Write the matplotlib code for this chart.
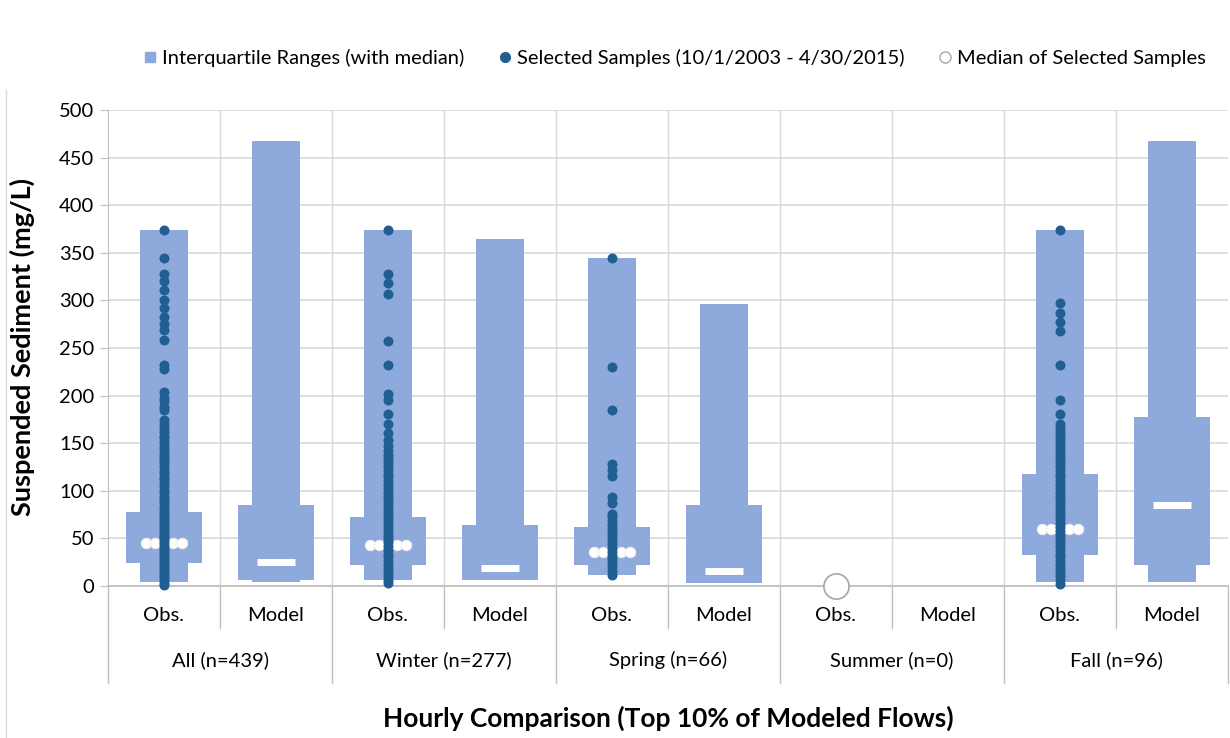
import matplotlib
matplotlib.use("Agg")
import matplotlib.pyplot as plt
import matplotlib.transforms as mtransforms
from matplotlib.lines import Line2D
import numpy as np

plt.rcParams['font.family'] = ['Lato', 'DejaVu Sans']

# slots: Obs./Model for each season group
slot_labels = ["Obs.", "Model"] * 5
group_labels = ["All (n=439)", "Winter (n=277)", "Spring (n=66)", "Summer (n=0)", "Fall (n=96)"]

nan = np.nan
box_min = [4, 4, 6, 6, 12, 3, nan, nan, 4, 4]
box_q1 = [24, 6, 22, 6, 22, 3, nan, nan, 33, 22]
box_med = [45, 25, 43, 19, 36, 16, nan, nan, 60, 85]
box_q3 = [78, 85, 73, 64, 62, 85, nan, nan, 118, 178]
box_max = [374, 467, 374, 365, 345, 296, nan, nan, 374, 467]

# selected samples (observations), one list per season, at the Obs. slot
all_obs = [374, 345, 328, 320, 311, 300, 292, 283, 275, 269, 258, 232, 228, 204, 197, 194, 188, 185,
           174, 170, 166, 162, 158, 155, 151, 147, 144, 140, 137, 133, 130, 126, 122, 119, 115, 112,
           108, 105, 101, 98, 94, 91, 88, 84, 81, 78, 75, 72, 69, 66, 63, 60, 57, 54, 51, 48, 45,
           42, 39, 36, 33, 30, 27, 24, 21, 18, 15, 12, 9, 6, 3, 1]
winter_obs = [374, 328, 318, 307, 257, 232, 202, 195, 181, 170, 161, 153, 147, 142, 138, 134, 130,
              126, 122, 118, 114, 110, 106, 102, 98, 94, 90, 86, 82, 78, 74, 70, 66, 62, 58, 54, 50,
              46, 42, 38, 34, 30, 26, 22, 18, 14, 10, 6, 3]
spring_obs = [345, 230, 185, 128, 122, 116, 94, 87, 76, 72, 68, 64, 60, 56, 52, 48, 44, 40, 36,
              32, 28, 24, 20, 16, 12]
summer_obs = []
fall_obs = [374, 297, 287, 277, 268, 232, 195, 181, 170, 166, 162, 158, 154, 150, 146, 142, 138,
            134, 130, 126, 122, 118, 114, 110, 106, 102, 98, 94, 90, 86, 82, 78, 74, 70, 66, 62, 58,
            54, 50, 46, 42, 38, 34, 30, 26, 22, 18, 14, 10, 6, 2]
season_obs = [all_obs, winter_obs, spring_obs, summer_obs, fall_obs]

# median of selected samples per season
sample_median = [45, 43, 36, 0, 60]

box_color = "#8eaadc"
dot_color = "#215e92"
grid_color = "#d9d9d9"
axis_color = "#bfbfbf"
fs = 14.5

fig = plt.figure(figsize=(12.3, 7.38), dpi=100)
ax = fig.add_axes([108 / 1230, 1 - 586 / 738, 1120 / 1230, 476 / 738])

x = np.arange(len(slot_labels))
bmin = np.array(box_min, dtype=float)
bmax = np.array(box_max, dtype=float)
bq1 = np.array(box_q1, dtype=float)
bq3 = np.array(box_q3, dtype=float)

# whisker range (narrow) and interquartile range (wide)
ax.bar(x, bmax - bmin, bottom=bmin, width=0.43, color=box_color, zorder=2)
ax.bar(x, bq3 - bq1, bottom=bq1, width=0.68, color=box_color, zorder=2)

# model medians as white dashes
for i in range(len(x)):
    if slot_labels[i] == "Model" and not np.isnan(box_med[i]):
        ax.plot([x[i] - 0.17, x[i] + 0.17], [box_med[i]] * 2, color="white", lw=5,
                solid_capstyle="butt", zorder=3)

# medians of selected samples (white dots across the obs box)
for g in range(len(group_labels)):
    xo = 2 * g
    if len(season_obs[g]) == 0:
        ax.scatter([xo], [sample_median[g]], s=330, color="white", edgecolor="#a6a6a6",
                   linewidth=1.2, zorder=5, clip_on=False)
    else:
        offs = np.array([-0.16, -0.08, 0.0, 0.08, 0.16])
        ax.scatter(xo + offs, [sample_median[g]] * len(offs), s=60, color="white",
                   edgecolor="#e6e6e6", linewidth=0.5, zorder=3)

# selected samples
for g in range(len(group_labels)):
    vals = season_obs[g]
    if len(vals):
        ax.scatter([2 * g] * len(vals), vals, s=52, color=dot_color, linewidth=0,
                   zorder=4, clip_on=False)

ax.set_xlim(-0.5, 9.5)
ax.set_ylim(0, 500)
ax.set_yticks(np.arange(0, 501, 50))
ax.yaxis.grid(True, color=grid_color, lw=1.2, zorder=0)
for b in np.arange(0.5, 9.5, 1.0):
    ax.axvline(b, color=grid_color, lw=1.0, zorder=0)
ax.set_xticks([])
for s in ["top", "right"]:
    ax.spines[s].set_visible(False)
ax.spines["left"].set_color(axis_color)
ax.spines["bottom"].set_color(axis_color)
ax.spines["bottom"].set_linewidth(1.3)
ax.tick_params(axis="y", length=6, color=axis_color, labelsize=fs, pad=4)

# category labels below axis
trans = mtransforms.blended_transform_factory(ax.transData, ax.transAxes)
for i, lab in enumerate(slot_labels):
    ax.text(x[i], -0.061, lab, transform=trans, ha="center", va="center", fontsize=fs)
for g, lab in enumerate(group_labels):
    ax.text(2 * g + 0.5, -0.155, lab, transform=trans, ha="center", va="center", fontsize=fs)
for b in [0.5, 2.5, 4.5, 6.5, 8.5]:
    ax.plot([b, b], [0, -0.088], transform=trans, color=axis_color, lw=1.0, clip_on=False)
for b in [-0.5, 1.5, 3.5, 5.5, 7.5, 9.5]:
    ax.plot([b, b], [0, -0.204], transform=trans, color=axis_color, lw=1.0, clip_on=False)

fig.text(22 / 1230, 1 - 347 / 738, "Suspended Sediment (mg/L)", rotation=90,
         ha="center", va="center", fontsize=19.5, fontweight="bold")
fig.text(668 / 1230, 1 - 718 / 738, "Hourly Comparison (Top 10% of Modeled Flows)",
         ha="center", va="center", fontsize=19, fontweight="bold")

handles = [
    Line2D([], [], marker="s", ls="", markersize=7, color=box_color),
    Line2D([], [], marker="o", ls="", markersize=7, color=dot_color),
    Line2D([], [], marker="o", ls="", markersize=8, markerfacecolor="white",
           markeredgecolor="#a6a6a6"),
]
fig.legend(handles, ["Interquartile Ranges (with median)",
                     "Selected Samples (10/1/2003 - 4/30/2015)",
                     "Median of Selected Samples"],
           loc="center", bbox_to_anchor=(673 / 1230, 1 - 58 / 738), ncol=3, frameon=False,
           fontsize=fs, handletextpad=0.1, columnspacing=1.5, handlelength=1.0)

# faint outer frame line on the left
fig.add_artist(Line2D([6 / 1230, 6 / 1230], [0, 1 - 90 / 738], color="#d9d9d9", lw=1.0))

fig.savefig("out.png", dpi=100)
